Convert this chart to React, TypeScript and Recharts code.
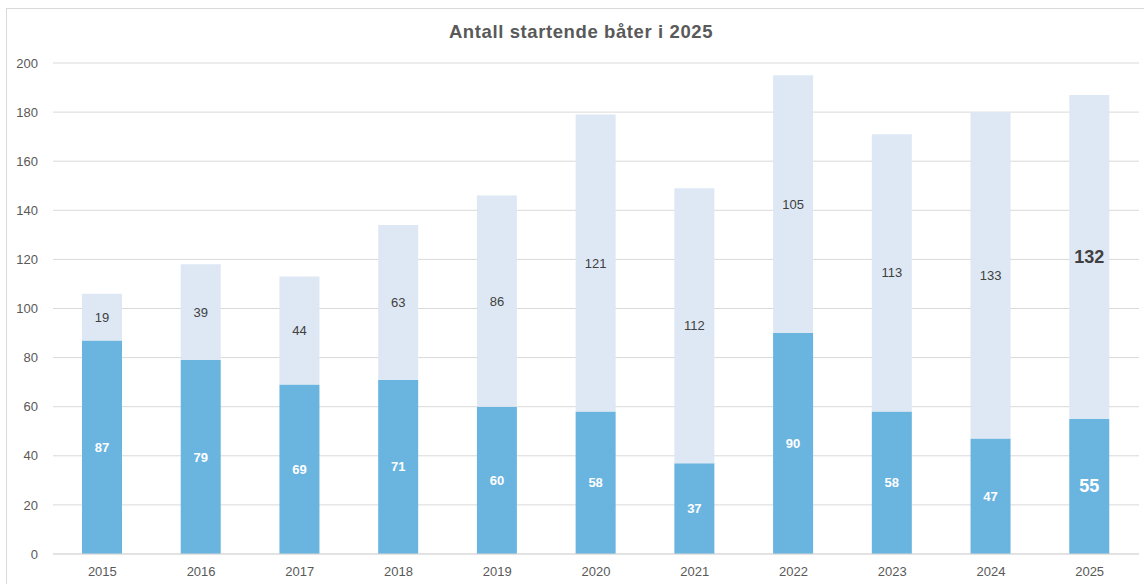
import React from "react";
import { BarChart, Bar, XAxis, YAxis, CartesianGrid, LabelList } from "recharts";

const years = ["2015", "2016", "2017", "2018", "2019", "2020", "2021", "2022", "2023", "2024", "2025"];
const bottomValues = [87, 79, 69, 71, 60, 58, 37, 90, 58, 47, 55];
const topValues = [19, 39, 44, 63, 86, 121, 112, 105, 113, 133, 132];
const yTicks = [0, 20, 40, 60, 80, 100, 120, 140, 160, 180, 200];

const data = years.map((y, i) => ({ year: y, a: bottomValues[i], b: topValues[i] }));

const FONT = "'Liberation Sans', Arial, sans-serif";
const lastIndex = years.length - 1;

const makeLabel = (fill: string, bold: boolean) => (props: any) => {
  const { x, y, width, height, value, index } = props;
  const big = index === lastIndex;
  return (
    <text
      x={x + width / 2}
      y={y + height / 2}
      textAnchor="middle"
      dominantBaseline="central"
      fill={fill}
      fontFamily={FONT}
      fontSize={big ? 18 : 13}
      fontWeight={bold || big ? 700 : 400}
    >
      {value}
    </text>
  );
};

export default function App() {
  return (
    <div
      style={{
        position: "absolute",
        left: 6,
        top: 8,
        width: 1150,
        height: 590,
        border: "1px solid #d9d9d9",
        background: "#fff",
      }}
    >
      <div
        style={{
          position: "absolute",
          left: 0,
          top: 12,
          width: 1148,
          textAlign: "center",
          fontFamily: FONT,
          fontWeight: 700,
          fontSize: 18.5,
          letterSpacing: 0.6,
          color: "#595959",
        }}
      >
        Antall startende båter i 2025
      </div>
      <BarChart
        width={1140}
        height={575}
        data={data}
        margin={{ top: 54, right: 8, bottom: 10, left: 0 }}
        barSize={40}
      >
        <CartesianGrid vertical={false} stroke="#d9d9d9" />
        <XAxis
          dataKey="year"
          height={20}
          tickLine={false}
          axisLine={{ stroke: "#d9d9d9" }}
          tickMargin={7}
          tick={{ fill: "#595959", fontSize: 13, fontFamily: FONT }}
          interval={0}
        />
        <YAxis
          width={46}
          domain={[0, 200]}
          ticks={yTicks}
          tickLine={false}
          axisLine={false}
          tickMargin={9}
          tick={{ fill: "#595959", fontSize: 13, fontFamily: FONT }}
        />
        <Bar dataKey="a" stackId="s" fill="#6ab4e0" isAnimationActive={false}>
          <LabelList dataKey="a" content={makeLabel("#ffffff", true)} />
        </Bar>
        <Bar dataKey="b" stackId="s" fill="#dee8f4" isAnimationActive={false}>
          <LabelList dataKey="b" content={makeLabel("#404040", false)} />
        </Bar>
      </BarChart>
    </div>
  );
}
